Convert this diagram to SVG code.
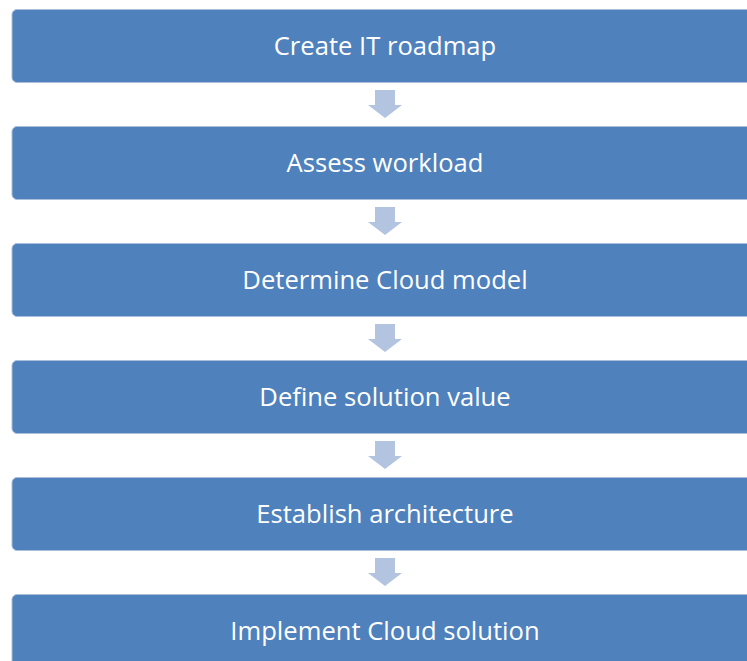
<svg xmlns="http://www.w3.org/2000/svg" width="747" height="661" viewBox="0 0 747 661">
<defs>
<style>
.box{fill:#4f81bd;stroke:#a9bfdc;stroke-width:1}
.lbl{fill:#ffffff;font-family:"Open Sans","Liberation Sans",sans-serif;font-size:25.6px;text-anchor:middle;dominant-baseline:central}
.arr{fill:#b3c4e0}
</style>
<path id="dn" d="M-10,0 H10 V15 H17 L0,28 L-17,15 H-10 Z"/>
</defs>
<rect width="747" height="661" fill="#ffffff"/>
<g id="connectors" class="arr">
<use href="#dn" x="385" y="90"/>
<use href="#dn" x="385" y="207"/>
<use href="#dn" x="385" y="324"/>
<use href="#dn" x="385" y="441"/>
<use href="#dn" x="385" y="558"/>
</g>
<g id="n1"><rect class="box" x="12" y="9.5" width="745" height="73" rx="5"/><text class="lbl" x="385" y="45">Create IT roadmap</text></g>
<g id="n2"><rect class="box" x="12" y="126.5" width="745" height="73" rx="5"/><text class="lbl" x="385" y="162">Assess workload</text></g>
<g id="n3"><rect class="box" x="12" y="243.5" width="745" height="73" rx="5"/><text class="lbl" x="385" y="279">Determine Cloud model</text></g>
<g id="n4"><rect class="box" x="12" y="360.5" width="745" height="73" rx="5"/><text class="lbl" x="385" y="396">Define solution value</text></g>
<g id="n5"><rect class="box" x="12" y="477.5" width="745" height="73" rx="5"/><text class="lbl" x="385" y="513">Establish architecture</text></g>
<g id="n6"><rect class="box" x="12" y="594.5" width="745" height="73" rx="5"/><text class="lbl" x="385" y="630">Implement Cloud solution</text></g>
</svg>
